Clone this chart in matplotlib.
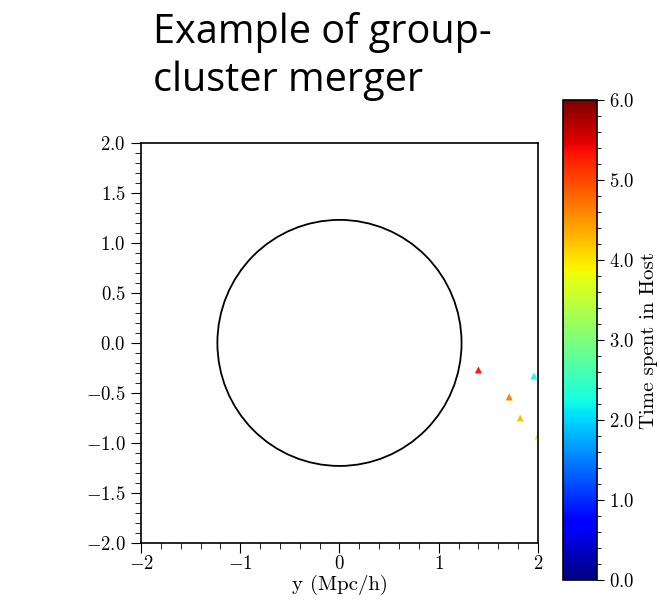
import matplotlib
matplotlib.use("Agg")
import matplotlib.pyplot as plt
import numpy as np
from matplotlib.patches import Circle
from matplotlib.ticker import MultipleLocator, FuncFormatter

plt.rcParams['mathtext.fontset'] = 'cm'
plt.rcParams['axes.formatter.use_mathtext'] = True
plt.rcParams['font.family'] = 'cmr10'
plt.rcParams['axes.unicode_minus'] = True

# subhalo positions (Mpc/h) and time spent in the host
pos_y = [1.40, 1.96, 1.71, 1.82, 2.00]
pos_z = [-0.27, -0.33, -0.54, -0.75, -0.93]
time_in_host = [5.3, 2.3, 4.6, 4.2, 3.5]
host_radius = 1.23

fig = plt.figure(figsize=(6.6, 6.08), dpi=100)
ax = fig.add_axes([0.2136, 0.107, 0.6015, 0.658])
cax = fig.add_axes([0.853, 0.046, 0.0515, 0.789])

ax.add_patch(Circle((0, 0), host_radius, fill=False, ec='black', lw=1.3))
sc = ax.scatter(pos_y, pos_z, c=time_in_host, cmap='jet', vmin=0, vmax=6,
                marker='^', s=26, linewidths=0)

ax.set_xlim(-2, 2)
ax.set_ylim(-2, 2)
ax.xaxis.set_major_locator(MultipleLocator(1))
ax.xaxis.set_minor_locator(MultipleLocator(0.2))
ax.yaxis.set_major_locator(MultipleLocator(0.5))
ax.yaxis.set_minor_locator(MultipleLocator(0.1))
ax.yaxis.set_major_formatter(FuncFormatter(lambda v, p: r'$%.1f$' % v))
ax.tick_params(which='both', top=False, right=False, direction='out', labelsize=13.5)
ax.tick_params(which='major', length=7, pad=4)
ax.tick_params(which='minor', length=4)
ax.tick_params(axis='x', which='major', pad=2)
ax.set_xlabel('y (Mpc/h)', fontsize=15, labelpad=1)
for s in ax.spines.values():
    s.set_linewidth(1.2)

cb = fig.colorbar(sc, cax=cax)
cb.set_ticks(np.arange(0, 7, 1))
cb.ax.yaxis.set_major_formatter(FuncFormatter(lambda v, p: r'$%.1f$' % v))
cb.ax.yaxis.set_minor_locator(MultipleLocator(0.2))
cb.ax.tick_params(which='both', labelsize=13.5, direction='out')
cb.ax.tick_params(which='major', length=5)
cb.ax.tick_params(which='minor', length=3)
cb.set_label('Time spent in Host', fontsize=15, labelpad=4)
cb.outline.set_linewidth(1.2)

fig.text(0.232, 1 - 91 / 608, 'Example of group-\ncluster merger', fontsize=28.5,
         family='Open Sans', linespacing=1.25, va='baseline', ha='left')

fig.savefig('out.png', dpi=100)
